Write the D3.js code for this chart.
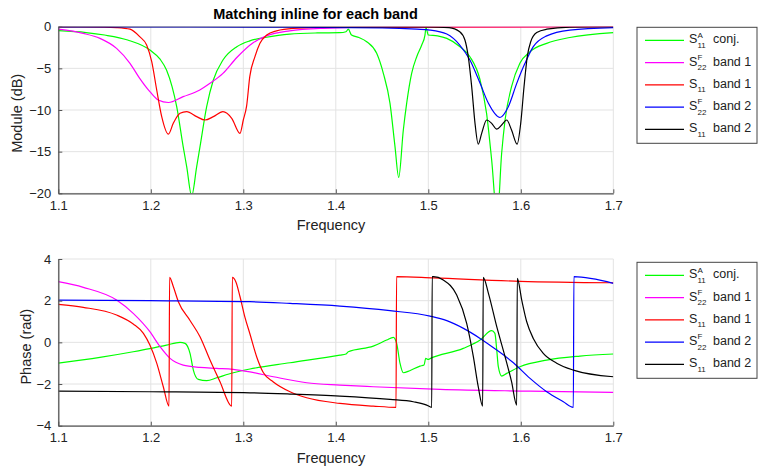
<!DOCTYPE html>
<html>
<head>
<meta charset="utf-8">
<script src="https://cdn.jsdelivr.net/npm/d3@7"></script>
<style>
    body { margin: 0; background: #fff; }
    svg text { font-family: "Liberation Sans", Arial, Helvetica, sans-serif; fill: #222; }
</style>
</head>
<body>
<div id="container"></div>
<script>
const freqTicks = [1.1, 1.2, 1.3, 1.4, 1.5, 1.6, 1.7];
const moduleTicks = [-20, -15, -10, -5, 0];
const phaseTicks = [-4, -2, 0, 2, 4];

const seriesColors = ['#00ff00', '#ff00ff', '#ff0000', '#0000ff', '#000000'];
const legendSup = ['A', 'F', '', 'F', ''];
const legendSub = ['11', '22', '11', '22', '11'];
const legendText = ['conj.', 'band 1', 'band 1', 'band 2', 'band 2'];

// module (dB), [frequency, value]
const modS11A = [[1.1, -0.48], [1.13, -0.7], [1.15, -1.0], [1.175, -1.6], [1.199, -2.8], [1.21, -3.9], [1.217, -5.2],
    [1.223, -7.2], [1.228, -9.6], [1.235, -14.4], [1.2388, -16.8], [1.2442, -20.3], [1.2496, -16.8], [1.2532, -14.4],
    [1.2604, -9.6], [1.2676, -6.4], [1.278, -4.0], [1.293, -2.4], [1.307, -1.7], [1.3235, -1.3], [1.35, -0.88],
    [1.38, -0.75], [1.4045, -0.72], [1.411, -0.6], [1.4135, -0.3], [1.417, -1.0], [1.425, -1.3], [1.4334, -1.8],
    [1.4442, -3.2], [1.4514, -5.6], [1.4586, -9.2], [1.464, -14.4], [1.468, -18.1], [1.473, -12.4], [1.4766, -9.2],
    [1.482, -5.6], [1.4875, -3.6], [1.4929, -2.2], [1.4964, -1.0], [1.4975, -0.1], [1.5, -1.0], [1.51, -1.1],
    [1.52, -1.4], [1.5343, -2.4], [1.545, -3.6], [1.556, -6.4], [1.563, -10.4], [1.5685, -16], [1.5745, -23],
    [1.5793, -15.2], [1.583, -11.2], [1.59, -7.2], [1.599, -4.4], [1.61, -3.0], [1.628, -2.0], [1.653, -1.3], [1.7, -0.72]];
const modS22F1 = [[1.1, -0.3], [1.127, -0.8], [1.145, -1.4], [1.163, -2.6], [1.1775, -4.4], [1.188, -6.2], [1.199, -7.8],
    [1.208, -8.8], [1.219, -9.1], [1.235, -8.4], [1.253, -7.6], [1.264, -6.8], [1.278, -5.6], [1.293, -3.7], [1.311, -1.9],
    [1.325, -1.1], [1.35, -0.5], [1.386, -0.2], [1.45, -0.05], [1.7, 0]];
const modS11B1 = [[1.1, -0.03], [1.15, -0.05], [1.163, -0.1], [1.1775, -0.3], [1.188, -1.2], [1.1955, -2.2], [1.201, -4.2],
    [1.2064, -7.6], [1.2118, -10.8], [1.219, -12.9], [1.2243, -11.6], [1.2316, -10.4], [1.2388, -10.2], [1.2496, -10.8],
    [1.2586, -11.2], [1.2676, -10.8], [1.278, -10.2], [1.2875, -11.0], [1.2964, -12.8], [1.3, -11.2], [1.3036, -9.5],
    [1.307, -6.0], [1.3126, -3.6], [1.318, -2.0], [1.3253, -1.0], [1.336, -0.5], [1.354, -0.2], [1.4, -0.05], [1.7, 0]];
const modS22F2 = [[1.1, -0.01], [1.35, -0.05], [1.45, -0.15], [1.4875, -0.3], [1.5019, -0.4], [1.52, -0.88], [1.534, -2.2],
    [1.545, -4.0], [1.556, -6.8], [1.565, -9.2], [1.5775, -10.9], [1.5865, -9.6], [1.5956, -6.8], [1.6045, -4.4],
    [1.6135, -2.4], [1.628, -1.1], [1.653, -0.4], [1.7, -0.1]];
const modS11B2 = [[1.1, 0], [1.5, -0.02], [1.5225, -0.1], [1.534, -0.6], [1.5396, -1.6], [1.5432, -3.6], [1.5469, -7.2],
    [1.5505, -11.6], [1.554, -14.1], [1.5577, -12.8], [1.5631, -11.2], [1.5685, -11.6], [1.574, -12.3], [1.5793, -11.8],
    [1.5847, -11.2], [1.59, -12.4], [1.596, -14.1], [1.5999, -11.6], [1.6035, -7.2], [1.607, -3.6], [1.6107, -1.8],
    [1.6172, -0.7], [1.628, -0.3], [1.653, -0.05], [1.7, 0]];

// phase (rad), [frequency, value]
const phS11A = [[1.1, -1.0], [1.145, -0.72], [1.181, -0.45], [1.199, -0.3], [1.217, -0.13], [1.2316, 0.0], [1.237, -0.05],
    [1.2424, -0.53], [1.246, -1.33], [1.2514, -1.78], [1.2604, -1.84], [1.2712, -1.7], [1.2892, -1.46], [1.3072, -1.28],
    [1.3505, -0.98], [1.4045, -0.61], [1.411, -0.56], [1.4135, -0.45], [1.4405, -0.18], [1.455, 0.11], [1.4622, 0.24],
    [1.4658, -0.05], [1.4694, -1.0], [1.473, -1.46], [1.48, -1.36], [1.491, -1.14], [1.4954, -1.09], [1.4972, -0.77],
    [1.5, -0.82], [1.5019, -0.78], [1.5378, -0.29], [1.556, 0.11], [1.5685, 0.56], [1.572, 0.43], [1.574, -0.37],
    [1.5757, -1.17], [1.5793, -1.62], [1.5847, -1.49], [1.599, -1.17], [1.628, -0.85], [1.664, -0.66], [1.7, -0.56]];
const phS22F1 = [[1.1, 2.91], [1.127, 2.64], [1.163, 2.03], [1.181, 1.39], [1.199, 0.51], [1.21, -0.21], [1.2208, -0.77],
    [1.235, -1.09], [1.253, -1.2], [1.2712, -1.25], [1.289, -1.3], [1.3072, -1.42], [1.3325, -1.65], [1.3685, -1.94],
    [1.4045, -2.05], [1.4405, -2.13], [1.5126, -2.26], [1.61, -2.34], [1.7, -2.4]];
const phS11B1 = [[1.1, 1.82], [1.127, 1.68], [1.163, 1.31], [1.181, 0.88], [1.192, 0.43], [1.199, -0.13], [1.2064, -1.0],
    [1.2135, -2.13], [1.2197, -3.06], [1.2203, 3.12], [1.2243, 2.68], [1.2298, 1.95], [1.2424, 1.05], [1.2532, 0.27],
    [1.264, -0.85], [1.2748, -1.89], [1.2875, -3.06], [1.2881, 3.12], [1.292, 2.9], [1.2964, 2.2], [1.3018, 1.2],
    [1.3072, 0.4], [1.3145, -0.7], [1.3216, -1.45], [1.3325, -1.9], [1.3505, -2.37], [1.3685, -2.66], [1.4045, -2.93],
    [1.4405, -3.06], [1.4651, -3.12], [1.4657, 3.15], [1.5054, 3.09], [1.599, 2.93], [1.7, 2.86]];
const phS22F2 = [[1.1, 2.03], [1.199, 2.0], [1.307, 1.95], [1.3505, 1.87], [1.4045, 1.74], [1.4586, 1.52], [1.5019, 1.26],
    [1.52, 1.04], [1.538, 0.67], [1.556, 0.19], [1.574, -0.37], [1.592, -0.98], [1.61, -1.73], [1.628, -2.37],
    [1.646, -2.85], [1.6568, -3.12], [1.6574, 3.15], [1.7, 2.83]];
const phS11B2 = [[1.1, -2.34], [1.199, -2.37], [1.3072, -2.42], [1.3505, -2.48], [1.4045, -2.58], [1.4586, -2.74],
    [1.4838, -2.85], [1.4983, -3.01], [1.5037, -3.12], [1.5042, 3.15], [1.5054, 3.15], [1.5162, 2.99], [1.5307, 2.27],
    [1.5415, 0.91], [1.5487, -0.69], [1.554, -2.13], [1.5588, -3.06], [1.5594, 3.12], [1.565, 2.35], [1.574, 0.75],
    [1.583, -0.69], [1.59, -1.89], [1.5956, -3.01], [1.5962, 3.07], [1.601, 2.03], [1.6064, 0.99], [1.6135, 0.19],
    [1.6243, -0.53], [1.6388, -1.0], [1.6568, -1.33], [1.7, -1.65]];

const svg = d3.select('#container')
    .append('svg')
    .attr('width', 760)
    .attr('height', 466);

const xScale = d3.scaleLinear().domain([1.1, 1.7]).range([58.3, 613.3]);
const xCenter = 331;

const drawPanel = (opts) => {
    const yScale = d3.scaleLinear().domain(opts.domain).range([opts.bottom, opts.top]);
    const g = svg.append('g');

    // grid
    g.selectAll('.vgrid').data(freqTicks).enter()
        .append('line')
        .attr('x1', (d) => xScale(d)).attr('x2', (d) => xScale(d))
        .attr('y1', opts.top).attr('y2', opts.bottom)
        .attr('stroke', '#e3e3e3');
    g.selectAll('.hgrid').data(opts.ticks).enter()
        .append('line')
        .attr('x1', xScale(1.1)).attr('x2', xScale(1.7))
        .attr('y1', (d) => yScale(d)).attr('y2', (d) => yScale(d))
        .attr('stroke', '#e3e3e3');

    // curves
    g.append('clipPath').attr('id', opts.id)
        .append('rect')
        .attr('x', xScale(1.1)).attr('y', opts.top)
        .attr('width', xScale(1.7) - xScale(1.1))
        .attr('height', opts.bottom - opts.top);

    const lineMaker = d3.line()
        .x((d) => xScale(d[0]))
        .y((d) => yScale(d[1]))
        .curve(d3.curveMonotoneX);

    g.selectAll('.curve').data(opts.series).enter()
        .append('path')
        .attr('class', 'curve')
        .attr('clip-path', 'url(#' + opts.id + ')')
        .attr('d', lineMaker)
        .attr('stroke', (d, i) => seriesColors[i])
        .attr('stroke-width', 1.2)
        .style('fill', 'none');

    // axes
    const xAxis = d3.axisBottom(xScale).tickValues(freqTicks)
        .tickFormat(d3.format('.1f')).tickSize(-4).tickSizeOuter(0).tickPadding(7);
    const yAxis = d3.axisLeft(yScale).tickValues(opts.ticks)
        .tickSize(-4).tickSizeOuter(0).tickPadding(7);

    const xg = g.append('g')
        .attr('transform', 'translate(0,' + opts.bottom + ')')
        .call(xAxis);
    const yg = g.append('g')
        .attr('transform', 'translate(' + xScale(1.1) + ',0)')
        .call(yAxis);
    [xg, yg].forEach((ax) => {
        ax.attr('font-family', null).attr('font-size', 13);
        ax.select('.domain').attr('stroke', '#555').attr('stroke-width', 1.3);
        ax.selectAll('.tick line').attr('stroke', '#555');
        ax.selectAll('.tick text').attr('fill', '#222');
    });

    g.append('text')
        .attr('x', xCenter).attr('y', opts.bottom + 37)
        .attr('text-anchor', 'middle')
        .attr('font-size', 14.5)
        .text('Frequency');

    g.append('text')
        .attr('transform', 'translate(' + opts.labelX + ',' + opts.labelY + ') rotate(-90)')
        .attr('text-anchor', 'middle')
        .attr('font-size', 14.5)
        .text(opts.label);

    // legend
    const lg = g.append('g').attr('transform', 'translate(637,' + opts.legendTop + ')');
    lg.append('rect')
        .attr('x', 0).attr('y', 0)
        .attr('width', 120).attr('height', 116)
        .attr('fill', '#fff')
        .attr('stroke', '#444');
    legendText.forEach((t, i) => {
        const ry = 13 + i * 22.25;
        lg.append('line')
            .attr('x1', 8).attr('x2', 47)
            .attr('y1', ry).attr('y2', ry)
            .attr('stroke', seriesColors[i])
            .attr('stroke-width', 1.2);
        lg.append('text').attr('x', 52).attr('y', ry + 3).attr('font-size', 12.5).text('S');
        if (legendSup[i]) {
            lg.append('text').attr('x', 60.5).attr('y', ry - 2.6).attr('font-size', 8).text(legendSup[i]);
        }
        lg.append('text').attr('x', 60.5).attr('y', ry + 7.6).attr('font-size', 8).text(legendSub[i]);
        lg.append('text').attr('x', 76).attr('y', ry + 3).attr('font-size', 12.5).text(t);
    });
};

drawPanel({
    id: 'clipTop', top: 26.7, bottom: 193.3, domain: [-20, 0], ticks: moduleTicks,
    series: [modS11A, modS22F1, modS11B1, modS22F2, modS11B2],
    label: 'Module (dB)', labelX: 21.5, labelY: 113.3, legendTop: 27.3
});
drawPanel({
    id: 'clipBottom', top: 259, bottom: 425.7, domain: [-4, 4], ticks: phaseTicks,
    series: [phS11A, phS22F1, phS11B1, phS22F2, phS11B2],
    label: 'Phase (rad)', labelX: 30.5, labelY: 346.7, legendTop: 262.3
});

svg.append('text')
    .attr('x', 315.5).attr('y', 19.3)
    .attr('text-anchor', 'middle')
    .attr('font-size', 14.5)
    .attr('font-weight', 'bold')
    .style('fill', '#000')
    .text('Matching inline for each band');
</script>
</body>
</html>
